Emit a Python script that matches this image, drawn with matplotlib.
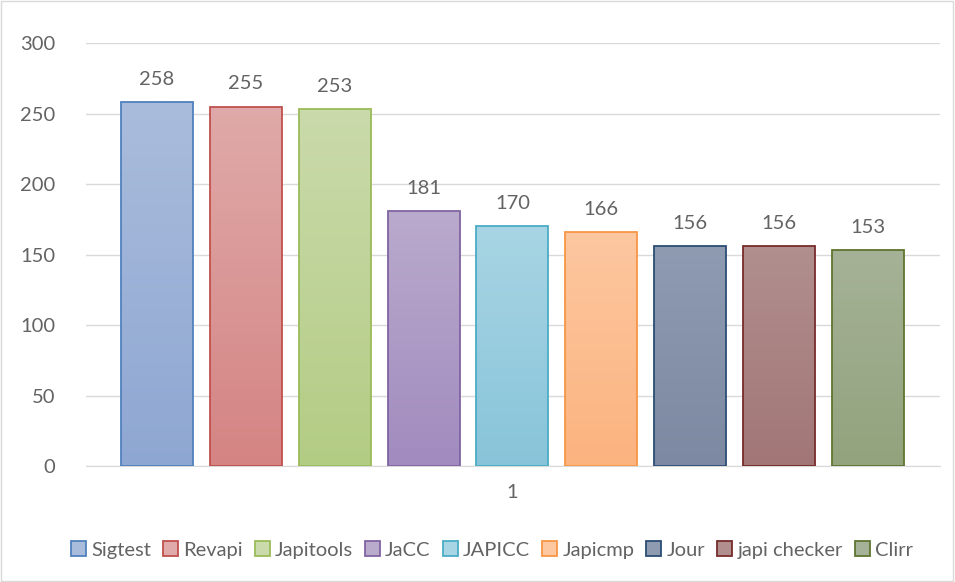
import numpy as np
import matplotlib.pyplot as plt
from matplotlib.colors import LinearSegmentedColormap
from matplotlib.patches import Rectangle, Patch

tools = ["Sigtest", "Revapi", "Japitools", "JaCC", "JAPICC",
         "Japicmp", "Jour", "japi checker", "Clirr"]
counts = [258, 255, 253, 181, 170, 166, 156, 156, 153]
fill_top = ["#AABCDC", "#DFAAA9", "#CADAAB", "#BAAACC", "#A8D5E4",
            "#FDC7A0", "#8E9BB1", "#B18F8F", "#A5B297"]
fill_bot = ["#8EA7D2", "#D48483", "#B3CC84", "#A18BBF", "#88C4D9",
            "#FBB37F", "#7D89A2", "#A27676", "#92A37D"]
edges = ["#4F81BD", "#C0504D", "#9BBB59", "#8064A2", "#4BACC6",
         "#F79646", "#2C4D75", "#772C2A", "#5F7530"]

plt.rcParams['font.family'] = ['Lato', 'DejaVu Sans']
grey = "#636363"

fig = plt.figure(figsize=(9.55, 5.82), dpi=100)
ax = fig.add_axes([0.090, 0.199, 0.894, 0.727])

x = np.arange(len(tools))
bars = ax.bar(x, counts, width=0.81, color="none", edgecolor=edges,
              linewidth=1.3, zorder=3)

# vertical gradient inside each bar, lighter at the top
grad = np.linspace(0, 1, 256).reshape(-1, 1)
for b, c0, c1 in zip(bars, fill_top, fill_bot):
    cmap = LinearSegmentedColormap.from_list("g", [c1, c0])
    bx, by = b.get_x(), b.get_y()
    w, h = b.get_width(), b.get_height()
    im = ax.imshow(grad, cmap=cmap, aspect="auto", origin="lower",
                   extent=[bx, bx + w, by, by + h], zorder=2)
    im.set_clip_path(b)

for xi, v in zip(x, counts):
    ax.text(xi, v + 10, str(v), ha="center", va="bottom",
            fontsize=14.5, color=grey)

ax.set_xlim(-0.80, 8.81)
ax.set_ylim(0, 300)
ax.set_yticks(range(0, 301, 50))
ax.set_xticks([4])
ax.set_xticklabels(["1"])
ax.tick_params(axis="both", length=0, labelsize=14.5, colors=grey)
ax.tick_params(axis="y", pad=22)
ax.tick_params(axis="x", pad=13)
ax.grid(axis="y", color="#D9D9D9", linewidth=1, zorder=0)
for s in ["top", "right", "left"]:
    ax.spines[s].set_visible(False)
ax.spines["bottom"].set_color("#D9D9D9")

handles = [Patch(facecolor=c, edgecolor=e, linewidth=1.3)
           for c, e in zip(fill_top, edges)]
leg = fig.legend(handles, tools, loc="center", bbox_to_anchor=(0.515, 0.055),
                 ncol=9, frameon=False, fontsize=14.5, handlelength=0.75,
                 handleheight=0.75, handletextpad=0.25, columnspacing=0.6)
for t in leg.get_texts():
    t.set_color(grey)

fig.patches.append(Rectangle((0.001, 0.002), 0.997, 0.996, transform=fig.transFigure,
                             fill=False, edgecolor="#D9D9D9", linewidth=1))

fig.savefig("out.png", dpi=100)
